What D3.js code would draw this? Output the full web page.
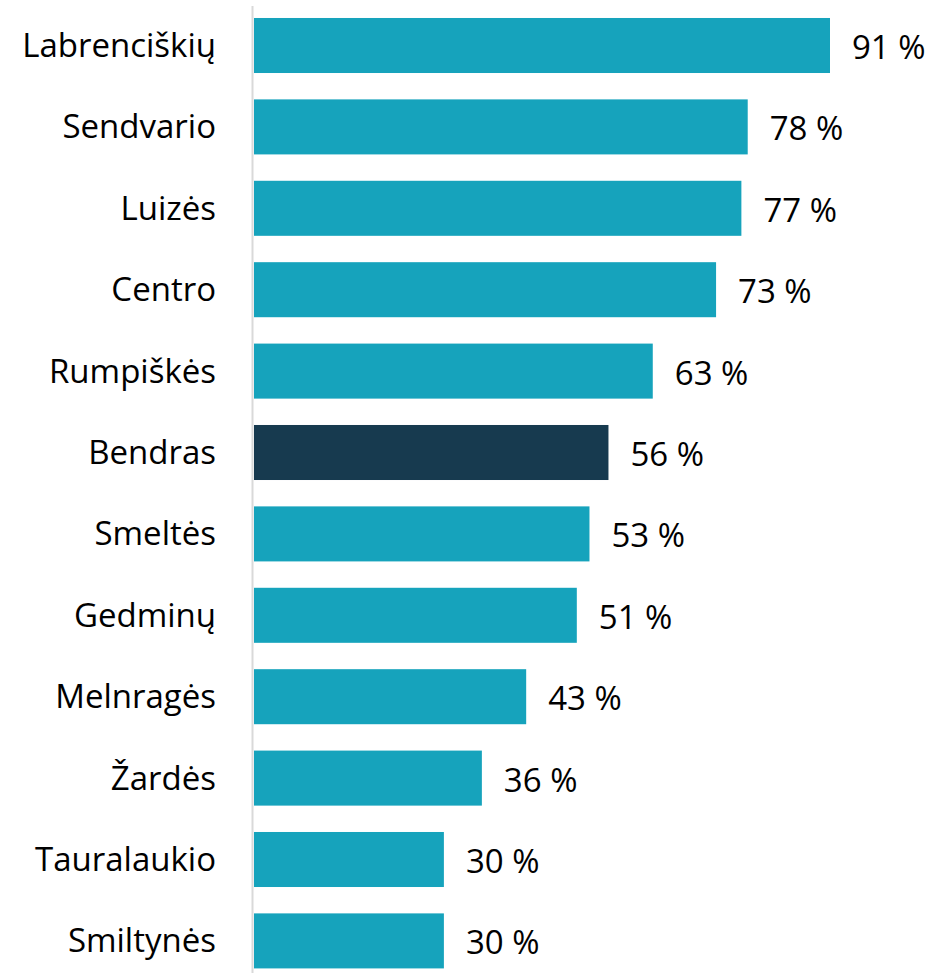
<!DOCTYPE html>
<html lang="lt">
<head>
<meta charset="UTF-8">
<title>Bar chart</title>
<script src="https://d3js.org/d3.v7.min.js"></script>
<style>
  body { margin: 0; background: #fff; }
  text { font-family: "Open Sans", "Noto Sans", sans-serif; }
</style>
</head>
<body>
<script>
  const categories = ["Labrenciškių", "Sendvario", "Luizės", "Centro", "Rumpiškės", "Bendras",
                      "Smeltės", "Gedminų", "Melnragės", "Žardės", "Tauralaukio", "Smiltynės"];
  const values = [91, 78, 77, 73, 63, 56, 53, 51, 43, 36, 30, 30];
  const highlight = "Bendras";

  const width = 942, height = 973;
  const x0 = 254;

  const svg = d3.select("body").append("svg")
      .attr("width", width)
      .attr("height", height);

  const x = d3.scaleLinear().domain([0, 91]).range([x0, 830]);
  const y = d3.scaleBand().domain(categories)
      .range([4.8, 981.6])
      .paddingInner(0.324)
      .paddingOuter(0.162);

  const data = categories.map((c, i) => ({cat: c, val: values[i]}));

  svg.selectAll("rect.bar").data(data).join("rect")
      .attr("class", "bar")
      .attr("x", x(0))
      .attr("y", d => y(d.cat))
      .attr("width", d => x(d.val) - x(0))
      .attr("height", y.bandwidth())
      .attr("fill", d => d.cat === highlight ? "#173a4f" : "#16a3bc");

  // axis line
  svg.append("line")
      .attr("x1", 252.5).attr("x2", 252.5)
      .attr("y1", 6).attr("y2", height)
      .attr("stroke", "#d9d9d9")
      .attr("stroke-width", 2);

  // category labels
  svg.selectAll("text.cat").data(data).join("text")
      .attr("class", "cat")
      .attr("x", 216)
      .attr("y", d => y(d.cat) + y.bandwidth() / 2)
      .attr("dy", "0.35em")
      .attr("text-anchor", "end")
      .attr("font-size", 33)
      .attr("fill", "#000")
      .text(d => d.cat);

  // value labels
  svg.selectAll("text.val").data(data).join("text")
      .attr("class", "val")
      .attr("x", d => x(d.val) + 22)
      .attr("y", d => y(d.cat) + y.bandwidth() / 2 + 2)
      .attr("dy", "0.35em")
      .attr("font-size", 33)
      .attr("fill", "#000")
      .text(d => d.val + " %");
</script>
</body>
</html>
